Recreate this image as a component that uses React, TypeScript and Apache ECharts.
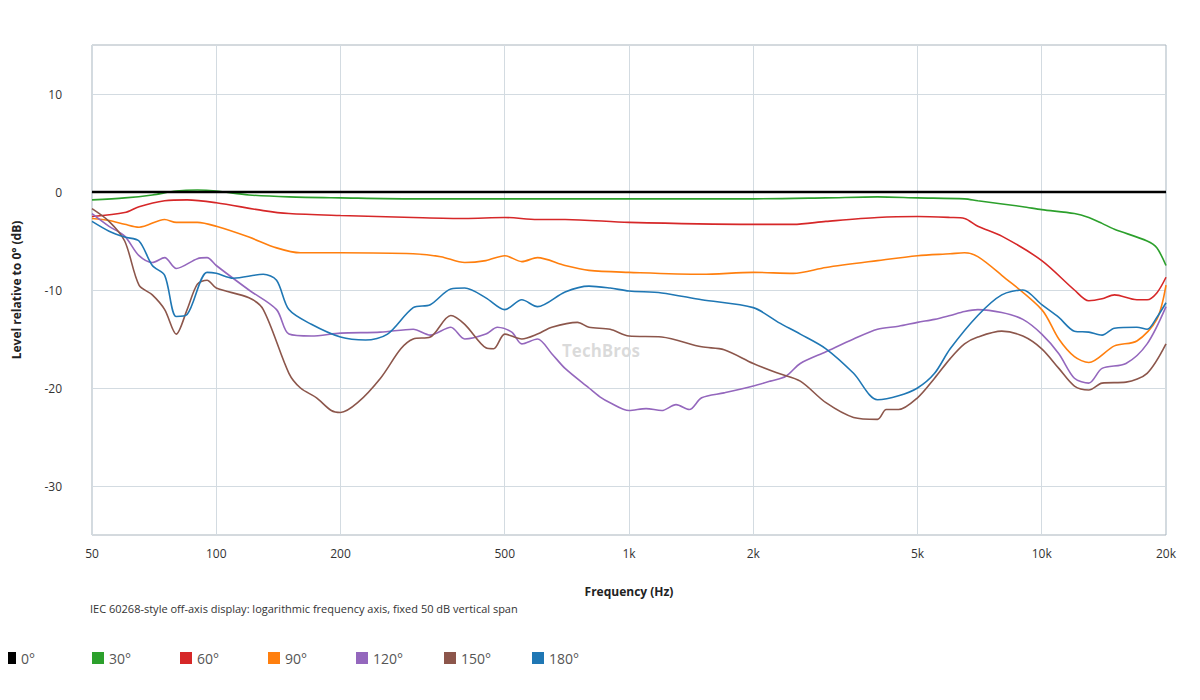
import React, { useEffect, useRef } from "react";
import * as echarts from "echarts";

const xTicks = [50, 100, 200, 500, 1000, 2000, 5000, 10000, 20000];
const yTicks = [-30, -20, -10, 0, 10];
const names = ["0°", "30°", "60°", "90°", "120°", "150°", "180°"];
const colors = ["#000000", "#2ca02c", "#d62728", "#ff7f0e", "#9467bd", "#8c564b", "#1f77b4"];

const deg0 = [[50, 0], [20000, 0]];
const deg30 = [[50, -0.8], [60, -0.6], [70, -0.3], [80, 0.1], [90, 0.2], [100, 0.1], [120, -0.3], [150, -0.5], [200, -0.6], [300, -0.7], [500, -0.7], [700, -0.7], [1000, -0.7], [2000, -0.7], [3000, -0.6], [4000, -0.5], [5000, -0.6], [6500, -0.7], [7000, -0.9], [9000, -1.5], [10000, -1.8], [12000, -2.2], [13000, -2.6], [14000, -3.2], [15000, -3.8], [18000, -5], [19000, -5.7], [20000, -7.5]];
const deg60 = [[50, -2.5], [60, -2.1], [65, -1.5], [75, -0.9], [85, -0.8], [100, -1.1], [130, -1.9], [150, -2.2], [200, -2.4], [300, -2.6], [400, -2.7], [500, -2.6], [600, -2.8], [700, -2.8], [1000, -3.1], [2000, -3.3], [2500, -3.3], [3000, -3], [4000, -2.6], [5000, -2.5], [6000, -2.6], [6500, -2.7], [7000, -3.5], [8000, -4.5], [10000, -7], [12000, -10], [13000, -11.1], [14000, -10.9], [15000, -10.5], [17000, -11], [18000, -11], [19000, -10.3], [20000, -8.7]];
const deg90 = [[50, -2.7], [55, -2.9], [60, -3.3], [65, -3.6], [75, -2.8], [80, -3.1], [90, -3.1], [100, -3.5], [120, -4.6], [140, -5.7], [160, -6.2], [200, -6.2], [300, -6.3], [350, -6.6], [400, -7.2], [450, -7.0], [500, -6.5], [550, -7.1], [600, -6.7], [700, -7.5], [800, -8], [1000, -8.2], [1500, -8.4], [2000, -8.2], [2500, -8.3], [3000, -7.7], [4000, -7], [5000, -6.5], [6000, -6.3], [6500, -6.2], [7000, -6.6], [8000, -8.5], [10000, -12], [11000, -15], [12000, -16.8], [13000, -17.4], [15000, -15.7], [17000, -15.2], [19000, -13], [20000, -9.5]];
const deg120 = [[50, -2.2], [55, -3.5], [60, -4.5], [65, -6.5], [70, -7.2], [75, -6.7], [80, -7.8], [90, -6.8], [95, -6.7], [100, -7.5], [120, -10], [140, -12], [150, -14.5], [170, -14.7], [200, -14.4], [250, -14.3], [300, -14], [330, -14.6], [370, -13.8], [400, -15], [450, -14.5], [480, -13.8], [520, -14.3], [550, -15.5], [600, -15], [650, -16.5], [700, -18], [800, -20], [850, -20.9], [900, -21.5], [1000, -22.3], [1100, -22.1], [1200, -22.3], [1300, -21.7], [1400, -22.2], [1500, -21], [1700, -20.5], [2000, -19.8], [2200, -19.3], [2400, -18.8], [2600, -17.5], [3000, -16.3], [3500, -15], [4000, -14], [4500, -13.7], [5000, -13.3], [5500, -13], [6000, -12.6], [6500, -12.2], [7000, -12], [8000, -12.3], [9000, -13], [10000, -14.5], [11000, -16.5], [12000, -19], [13000, -19.5], [14000, -18], [16000, -17.5], [18000, -15.5], [20000, -11.7]];
const deg150 = [[50, -1.7], [55, -3], [60, -5], [65, -9.5], [70, -10.5], [75, -12], [80, -14.5], [85, -12], [90, -9.4], [95, -9], [100, -9.8], [120, -10.8], [130, -12], [150, -18.5], [160, -20], [175, -21], [190, -22.3], [200, -22.5], [220, -21.5], [250, -19], [280, -16], [300, -15], [330, -14.8], [370, -12.6], [400, -13.5], [450, -15.9], [470, -16], [500, -14.5], [550, -15], [600, -14.5], [650, -13.8], [750, -13.3], [800, -13.8], [900, -14], [1000, -14.7], [1200, -14.8], [1500, -15.8], [1700, -16.1], [2000, -17.5], [2300, -18.5], [2600, -19.3], [3000, -21.5], [3500, -23], [4000, -23.2], [4200, -22.2], [4500, -22.2], [5000, -21], [5500, -19], [6000, -17], [6500, -15.5], [7000, -14.8], [8000, -14.2], [9000, -14.7], [10000, -16], [11000, -18], [12000, -19.8], [13000, -20.2], [14000, -19.5], [16000, -19.4], [18000, -18.5], [20000, -15.5]];
const deg180 = [[50, -3], [55, -4], [60, -4.6], [65, -5], [70, -7.5], [75, -8.5], [80, -12.7], [85, -12.5], [95, -8.2], [100, -8.3], [110, -8.8], [130, -8.4], [140, -9], [150, -12], [170, -13.5], [200, -14.8], [230, -15.1], [260, -14.5], [300, -11.8], [330, -11.5], [370, -9.9], [400, -9.8], [450, -10.8], [500, -12], [550, -11], [600, -11.7], [700, -10.2], [800, -9.6], [900, -9.8], [1000, -10.1], [1200, -10.3], [1500, -11], [2000, -11.8], [2300, -13.3], [2600, -14.5], [3000, -16], [3500, -18.5], [4000, -21.2], [4500, -20.8], [5000, -20], [5500, -18.5], [6000, -16], [7000, -12.6], [8000, -10.5], [9000, -10], [10000, -11.5], [11000, -12.8], [12000, -14.2], [13000, -14.3], [14000, -14.6], [15000, -13.9], [17000, -13.8], [18000, -14], [19000, -12.8], [20000, -11.3]];

const allSeries = [deg0, deg30, deg60, deg90, deg120, deg150, deg180];

function fmtFreq(v: number) {
  const f = Math.round(Math.pow(10, v));
  return f >= 1000 ? f / 1000 + "k" : String(f);
}

export default function App() {
  const ref = useRef<HTMLDivElement>(null);

  useEffect(() => {
    if (!ref.current) return;
    const chart = echarts.init(ref.current, null, { renderer: "svg" });
    const font = "'Segoe UI', 'Open Sans', 'Noto Sans', sans-serif";
    chart.setOption({
      animation: false,
      backgroundColor: "#fff",
      textStyle: { fontFamily: font },
      grid: { left: 92, right: 34, top: 45, bottom: 165, show: true, borderColor: "#a9b4bd", borderWidth: 1 },
      graphic: [
        { type: "text", left: 90, top: 603, style: { text: "IEC 60268-style off-axis display: logarithmic frequency axis, fixed 50 dB vertical span", fontSize: 11, fill: "#333", fontFamily: font } },
        { type: "text", left: 562, top: 342, z: 0, style: { text: "TechBros", fontSize: 17, fill: "rgba(150,150,150,0.35)", fontFamily: font, fontWeight: "bold" } },
      ],
      legend: names.map((n, i) => ({
        left: 4 + i * 88,
        top: 651,
        padding: 0,
        icon: "rect",
        itemWidth: 12,
        itemHeight: 12,
        textStyle: { fontSize: 14, color: "#555" },
        data: [n],
      })),
      xAxis: {
        type: "value",
        min: Math.log10(50),
        max: Math.log10(20000),
        name: "Frequency (Hz)",
        nameLocation: "middle",
        nameGap: 50,
        nameTextStyle: { fontSize: 12, color: "#222", fontWeight: "bold" },
        axisLine: { lineStyle: { color: "#a9b4bd" } },
        axisTick: { show: false, customValues: xTicks.map((f) => Math.log10(f)) },
        axisLabel: { customValues: xTicks.map((f) => Math.log10(f)), formatter: fmtFreq, color: "#333", fontSize: 12, margin: 12 },
        splitLine: { show: true, lineStyle: { color: "#d3dbe1" } },
      },
      yAxis: {
        type: "value",
        min: -35,
        max: 15,
        name: "Level relative to 0° (dB)",
        nameLocation: "middle",
        nameGap: 70,
        nameTextStyle: { fontSize: 12, color: "#222", fontWeight: "bold" },
        axisLine: { show: false },
        axisTick: { show: false, customValues: yTicks },
        axisLabel: { customValues: yTicks, color: "#333", fontSize: 12, margin: 30 },
        splitLine: { show: true, lineStyle: { color: "#d3dbe1" } },
      },
      series: allSeries.map((d, i) => ({
        name: names[i],
        type: "line",
        smooth: i === 0 ? false : 0.3,
        symbol: "none",
        z: i === 0 ? 3 : 2,
        color: colors[i],
        lineStyle: { width: i === 0 ? 2.5 : 1.6, color: colors[i] },
        data: d.map(([f, v]) => [Math.log10(f), v]),
      })),
    });
    return () => chart.dispose();
  }, []);

  return <div ref={ref} style={{ width: 1200, height: 700, margin: -8 }} />;
}
